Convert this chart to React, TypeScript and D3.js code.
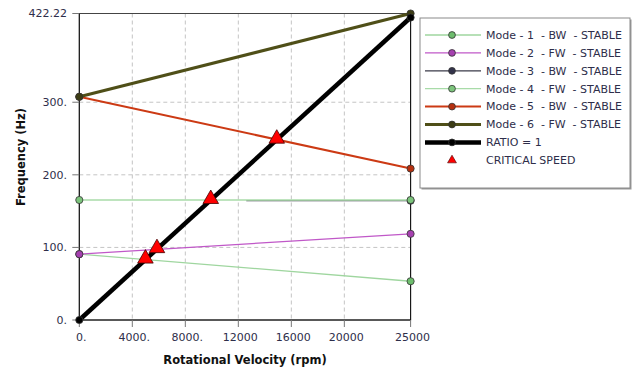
import React from "react";
import * as d3 from "d3";

// rotational velocity (rpm) at which each mode was evaluated
const rpmPoints = [0, 25000];
const mode1 = [90.7, 53.4];
const mode2 = [90.7, 118.7];
const mode3Rpm = [12600, 25000];
const mode3 = [164.3, 164.3];
const mode4 = [165.3, 165.3];
const mode5 = [307.5, 208.6];
const mode6 = [307.5, 422.22];
const ratioLine = [0, 416.67];

const criticalRpm = [4990, 5860, 9920, 14900];
const criticalHz = [83.2, 97.6, 165.3, 248.4];

const xTicks = [0, 4000, 8000, 12000, 16000, 20000, 25000];
const xTickLabels = ["0.", "4000.", "8000.", "12000", "16000", "20000", "25000"];
const yTicks = [0, 100, 200, 300, 422.22];
const yTickLabels = ["0.", "100.", "200.", "300.", "422.22"];

const legendLabels = [
  "Mode - 1  - BW  - STABLE",
  "Mode - 2  - FW  - STABLE",
  "Mode - 3  - BW  - STABLE",
  "Mode - 4  - FW  - STABLE",
  "Mode - 5  - BW  - STABLE",
  "Mode - 6  - FW  - STABLE",
  "RATIO = 1",
  "CRITICAL SPEED",
];

const W = 635;
const H = 369;
const font = "'DejaVu Sans', Verdana, sans-serif";
const textColor = "#2e2e4a";

const series = [
  { xs: rpmPoints, ys: mode1, color: "#9fd69f", marker: "#6dbd6d", width: 1.3, dots: [0, 1] },
  { xs: mode3Rpm, ys: mode3, color: "#3a3a48", marker: "#33334a", width: 1.2, dots: [1] },
  { xs: rpmPoints, ys: mode4, color: "#a8dba8", marker: "#7cc47c", width: 1.3, dots: [0, 1] },
  { xs: rpmPoints, ys: mode2, color: "#c058c8", marker: "#a640b0", width: 1.3, dots: [0, 1] },
  { xs: rpmPoints, ys: mode5, color: "#cc3a14", marker: "#b5300f", width: 2, dots: [0, 1] },
  { xs: rpmPoints, ys: mode6, color: "#4f4f18", marker: "#3d3d14", width: 3, dots: [0, 1] },
  { xs: rpmPoints, ys: ratioLine, color: "#000000", marker: "#000000", width: 4.5, dots: [0, 1] },
];

const legendStyles = [
  { color: "#9fd69f", marker: "#6dbd6d", width: 1.3 },
  { color: "#c058c8", marker: "#a640b0", width: 1.3 },
  { color: "#3a3a48", marker: "#33334a", width: 1.2 },
  { color: "#a8dba8", marker: "#7cc47c", width: 1.3 },
  { color: "#cc3a14", marker: "#b5300f", width: 2 },
  { color: "#4f4f18", marker: "#3d3d14", width: 3 },
  { color: "#000000", marker: "#000000", width: 4.5 },
];

export default function App() {
  const x = d3.scaleLinear().domain([0, 25000]).range([79.3, 410.6]);
  const y = d3.scaleLinear().domain([0, 422.22]).range([320, 13.5]);
  const line = d3.line<[number, number]>().x((d) => x(d[0])).y((d) => y(d[1]));

  const tri = d3.symbol().type(d3.symbolTriangle).size(105)()!;
  const triSmall = d3.symbol().type(d3.symbolTriangle).size(34)()!;

  const legX = 420;
  const legY = 18;
  const rowY = (i: number) => 35 + i * 17.9;

  return (
    <svg
      width={W}
      height={H}
      style={{ position: "absolute", left: 0, top: 0, background: "#fff" }}
      fontFamily={font}
    >
      {/* grid */}
      {xTicks.slice(1, -1).map((t) => (
        <line key={"gx" + t} x1={x(t)} x2={x(t)} y1={y(422.22)} y2={y(0)}
          stroke="#c4c4c4" strokeDasharray="4,3" />
      ))}
      {yTicks.slice(1, -1).map((t) => (
        <line key={"gy" + t} x1={x(0)} x2={x(25000)} y1={y(t)} y2={y(t)}
          stroke="#c4c4c4" strokeDasharray="4,3" />
      ))}

      {/* frame */}
      <rect x={x(0)} y={y(422.22)} width={x(25000) - x(0)} height={y(0) - y(422.22)}
        fill="none" stroke="#444" strokeWidth={1} />
      <line x1={x(0)} x2={x(0)} y1={y(422.22)} y2={y(0)} stroke="#111" />
      <line x1={x(0)} x2={x(25000)} y1={y(0)} y2={y(0)} stroke="#111" />
      <line x1={x(25000)} x2={x(25000)} y1={y(422.22)} y2={y(0)} stroke="#111" />

      {/* ticks */}
      {yTicks.map((t, i) => (
        <g key={"yt" + t}>
          <line x1={x(0) - 7} x2={x(0)} y1={y(t)} y2={y(t)} stroke="#777" />
          <text x={67} y={y(t)} dy="0.35em" textAnchor="end" fontSize={11} fill={textColor}>
            {yTickLabels[i]}
          </text>
        </g>
      ))}
      {xTicks.map((t, i) => (
        <g key={"xt" + t}>
          <line x1={x(t)} x2={x(t)} y1={y(0)} y2={y(0) + 7} stroke="#777" />
          <text x={x(t) + 2} y={341} textAnchor="middle" fontSize={11} fill={textColor}>
            {xTickLabels[i]}
          </text>
        </g>
      ))}

      {/* axis titles */}
      <text x={245} y={364} textAnchor="middle" fontSize={11.5} fontWeight="bold" fill="#111">
        Rotational Velocity (rpm)
      </text>
      <text transform="translate(25,157) rotate(-90)" textAnchor="middle" fontSize={11.5}
        fontWeight="bold" fill="#111">
        Frequency (Hz)
      </text>

      {/* mode lines */}
      {series.map((s, i) => {
        const pts = s.xs.map((v, j) => [v, s.ys[j]] as [number, number]);
        return (
          <g key={"s" + i}>
            <path d={line(pts)!} fill="none" stroke={s.color} strokeWidth={s.width} />
            {s.dots.map((j) => (
              <circle key={j} cx={x(pts[j][0])} cy={y(pts[j][1])} r={3.6}
                fill={s.marker} stroke="#333" strokeWidth={0.8} />
            ))}
          </g>
        );
      })}

      {/* critical speeds */}
      {criticalRpm.map((r, i) => (
        <path key={"c" + i} d={tri} transform={`translate(${x(r)},${y(criticalHz[i]) - 1})`}
          fill="#ff0000" stroke="#400" strokeWidth={0.8} />
      ))}

      {/* legend */}
      <rect x={legX + 1.5} y={legY + 1.5} width={210} height={170} fill="#999" />
      <rect x={legX} y={legY} width={210} height={170} fill="#fff" stroke="#8a8a8a" strokeWidth={1} />
      {legendLabels.map((lab, i) => (
        <g key={"l" + i}>
          {i < 7 ? (
            <g>
              <line x1={425} x2={481} y1={rowY(i)} y2={rowY(i)} stroke={legendStyles[i].color}
                strokeWidth={legendStyles[i].width} />
              <circle cx={452} cy={rowY(i)} r={3.4} fill={legendStyles[i].marker}
                stroke="#333" strokeWidth={0.8} />
            </g>
          ) : (
            <path d={triSmall} transform={`translate(452,${rowY(i)})`} fill="#ff0000"
              stroke="#400" strokeWidth={0.6} />
          )}
          <text x={486} y={rowY(i)} dy="0.35em" fontSize={11} fill={textColor}
            style={{ whiteSpace: "pre" }}>
            {lab}
          </text>
        </g>
      ))}
    </svg>
  );
}
